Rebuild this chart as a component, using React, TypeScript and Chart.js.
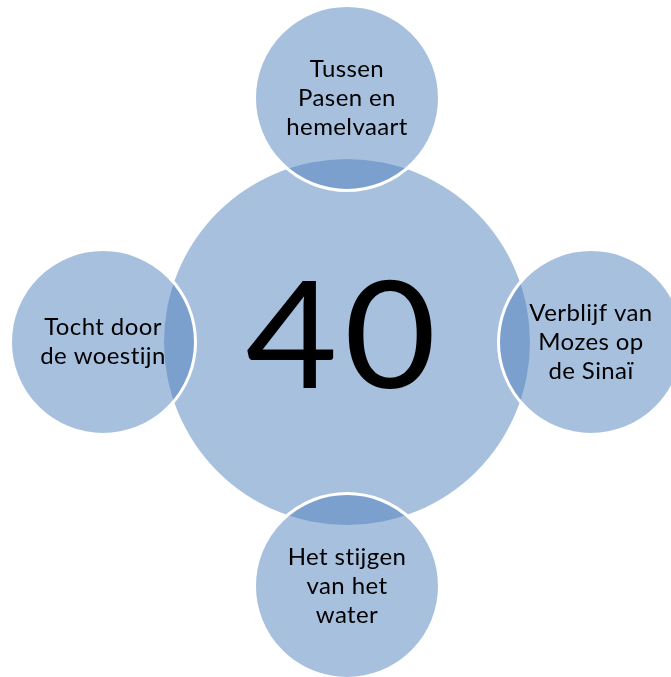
import React, { useEffect, useRef } from "react";
import { Chart, registerables } from "chart.js";

Chart.register(...registerables);

// Diagram content
const labels: string[] = [
  "40",
  "Tussen\nPasen en\nhemelvaart",
  "Verblijf van\nMozes op\nde Sinaï",
  "Het stijgen\nvan het\nwater",
  "Tocht door\nde woestijn",
];
// positions in diagram units (centre circle at origin, satellites at distance 1)
const xValues: number[] = [0, 0, 1, 0, -1];
const yValues: number[] = [0, 1, 0, -1, 0];
const sizes: number[] = [183, 92.5, 92.5, 92.5, 92.5];

const textPlugin = {
  id: "circleText",
  afterDatasetsDraw(chart: any) {
    const ctx = chart.ctx;
    const meta = chart.getDatasetMeta(0);
    ctx.save();
    ctx.fillStyle = "#000000";
    ctx.textAlign = "center";
    ctx.textBaseline = "middle";
    meta.data.forEach((el: any, i: number) => {
      const lines = labels[i].split("\n");
      if (i === 0) {
        ctx.save();
        ctx.font = "400 150px Lato, 'Open Sans', sans-serif";
        (ctx as any).letterSpacing = "6px";
        ctx.translate(el.x - 3, el.y - 2);
        ctx.scale(1.06, 1);
        ctx.fillText(lines[0], 0, 0);
        ctx.restore();
      } else {
        ctx.font = "24px Lato, 'Open Sans', sans-serif";
        (ctx as any).letterSpacing = "0.4px";
        const lh = 29;
        const start = el.y - ((lines.length - 1) * lh) / 2;
        lines.forEach((ln, j) => ctx.fillText(ln, el.x, start + j * lh));
      }
    });
    ctx.restore();
  },
};

export default function App() {
  const ref = useRef<HTMLCanvasElement | null>(null);
  useEffect(() => {
    if (!ref.current) return;
    const fill = "rgba(79,129,189,0.5)";
    const chart = new Chart(ref.current, {
      type: "bubble",
      data: {
        datasets: [
          {
            data: xValues.map((x, i) => ({ x, y: yValues[i], r: sizes[i] })),
            backgroundColor: labels.map(() => fill),
            borderColor: labels.map((_, i) => (i === 0 ? "rgba(0,0,0,0)" : "#ffffff")),
            borderWidth: labels.map((_, i) => (i === 0 ? 0 : 3)),
            hoverRadius: 0,
            clip: false as any,
          },
        ],
      },
      options: {
        responsive: false,
        devicePixelRatio: 1,
        animation: false,
        events: [],
        layout: { padding: 0, autoPadding: false },
        plugins: { legend: { display: false }, tooltip: { enabled: false } },
        scales: {
          x: { type: "linear", display: false, min: -1.4221, max: 1.3279 },
          y: { type: "linear", display: false, min: -1.373, max: 1.4016 },
        },
      },
      plugins: [textPlugin],
    });
    return () => chart.destroy();
  }, []);
  return (
    <div style={{ position: "fixed", left: 0, top: 0, width: 671, height: 677, background: "#fff" }}>
      <canvas ref={ref} width={671} height={677} />
    </div>
  );
}
